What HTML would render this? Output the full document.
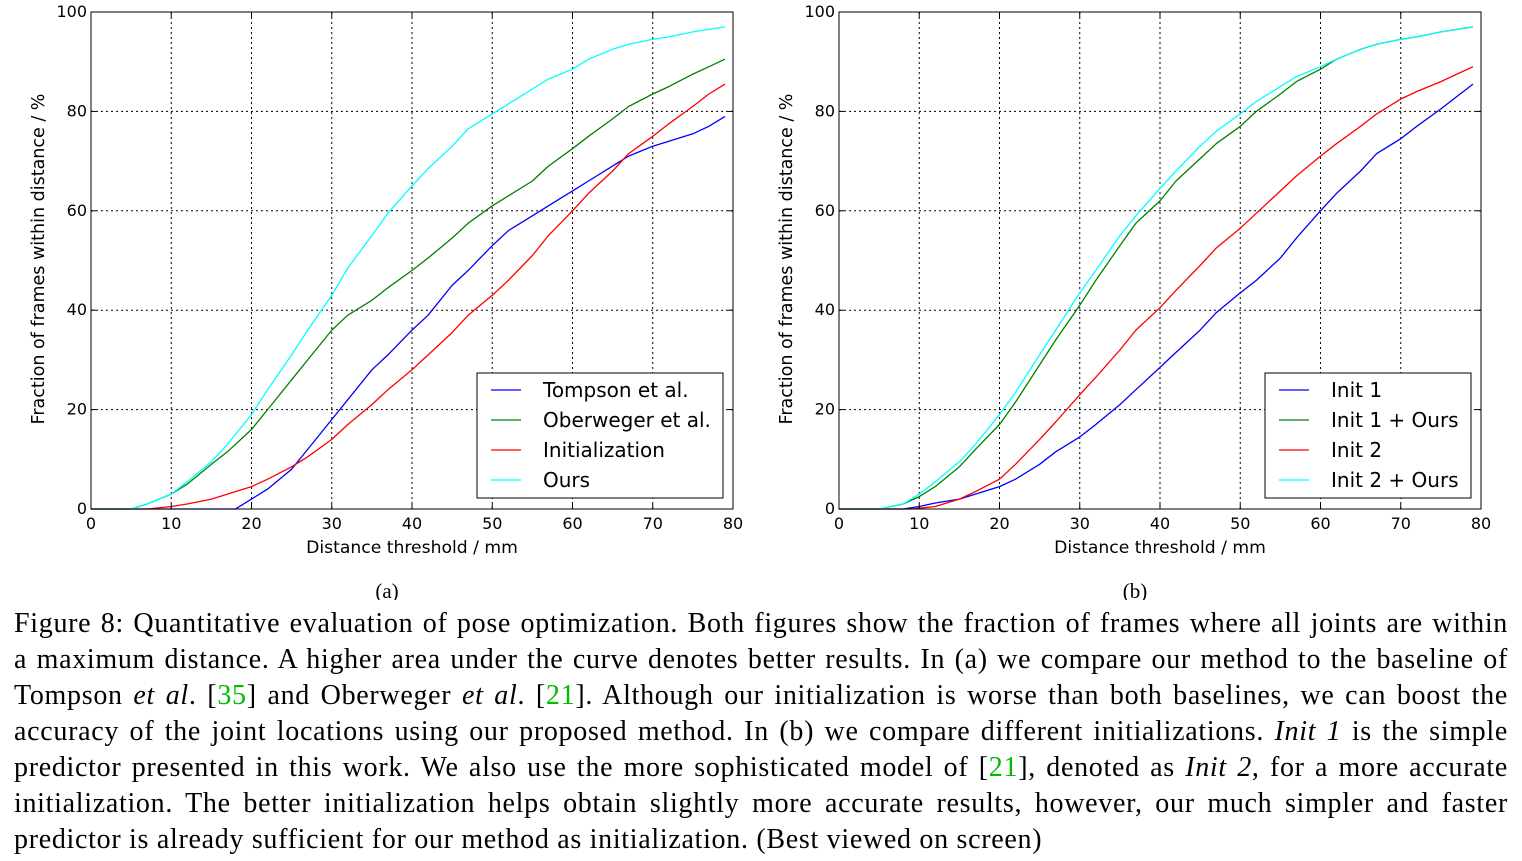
<!DOCTYPE html>
<html><head><meta charset="utf-8"><style>
body{margin:0;background:#fff;width:1522px;height:861px;overflow:hidden;position:relative}
svg{position:absolute;left:0;top:0}
.cap{position:absolute;left:14px;width:1494px;font-family:"Liberation Serif",serif;font-size:28px;letter-spacing:0.7px;line-height:36px;top:606px;color:#000}
.cap div{text-align:justify;text-align-last:justify;white-space:nowrap}
.cap div.last{text-align-last:left}
.g{color:#00bb00}
</style></head><body>
<svg id="chart" width="1522" height="600"></svg>
<div class="cap">
<div>Figure 8: Quantitative evaluation of pose optimization. Both figures show the fraction of frames where all joints are within</div>
<div>a maximum distance. A higher area under the curve denotes better results. In (a) we compare our method to the baseline of</div>
<div>Tompson <i>et al</i>. [<span class="g">35</span>] and Oberweger <i>et al</i>. [<span class="g">21</span>]. Although our initialization is worse than both baselines, we can boost the</div>
<div>accuracy of the joint locations using our proposed method. In (b) we compare different initializations. <i>Init 1</i> is the simple</div>
<div>predictor presented in this work. We also use the more sophisticated model of [<span class="g">21</span>], denoted as <i>Init 2</i>, for a more accurate</div>
<div>initialization. The better initialization helps obtain slightly more accurate results, however, our much simpler and faster</div>
<div class="last">predictor is already sufficient for our method as initialization. (Best viewed on screen)</div>
</div>
<script>
const xTicks=[0,10,20,30,40,50,60,70,80];
const yTicks=[0,20,40,60,80,100];
const labelsA=["Tompson et al.","Oberweger et al.","Initialization","Ours"];
const labelsB=["Init 1","Init 1 + Ours","Init 2","Init 2 + Ours"];
const colors=["#0000ff","#008000","#ff0000","#00ffff"];
const tompsonX=[0,18,20,22,25,27,30,32,35,37,40,42,45,47,50,52,55,57,60,62,65,67,70,72,75,77,79];
const tompsonY=[0,0,2,4,8,12,18,22,28,31,36,39,45,48,53,56,59,61,64,66,69,71,73,74,75.5,77,79];
const oberX=[0,5,7,10,12,15,17,20,22,25,27,30,32,35,37,40,42,45,47,50,52,55,57,60,62,65,67,70,72,75,77,79];
const oberY=[0,0,1,3,5,9,11.5,16,20,26,30,36,39,42,44.5,48,50.5,54.5,57.5,61,63,66,69,72.5,75,78.5,81,83.5,85,87.5,89,90.5];
const initX=[0,7,10,12,15,17,20,22,25,27,30,32,35,37,40,42,45,47,50,52,55,57,60,62,65,67,70,72,75,77,79];
const initY=[0,0,0.5,1,2,3,4.5,6,8.5,10.5,14,17,21,24,28,31,35.5,39,43,46,51,55,60,63.5,68,71.5,75,77.5,81,83.5,85.5];
const oursX=[0,5,7,10,12,15,17,20,22,25,27,30,32,35,37,40,42,45,47,50,52,55,57,60,62,65,67,70,72,75,77,79];
const oursY=[0,0,1,3,5.5,9.5,13,19,24,31,36,43,48.5,55,59.5,65,68.5,73,76.5,79.5,81.5,84.5,86.5,88.5,90.5,92.5,93.5,94.5,95,96,96.5,97];
const init1X=[0,8,10,12,15,17,20,22,25,27,30,32,35,37,40,42,45,47,50,52,55,57,60,62,65,67,70,72,75,77,79];
const init1Y=[0,0,0.5,1.2,2,3,4.5,6,9,11.5,14.5,17,21,24,28.5,31.5,36,39.5,43.5,46,50.5,54.5,60,63.5,68,71.5,74.5,77,80.5,83,85.5];
const init1oX=[0,5,8,10,12,15,17,20,22,25,27,30,32,35,37,40,42,45,47,50,52,55,57,60,62,65,67,70,72,75,77,79];
const init1oY=[0,0,1,2.5,4.5,8.5,12,17,21.5,29,34,41,46,53,57.5,62,66,70.5,73.5,77,80,83.5,86,88.5,90.5,92.5,93.5,94.5,95,96,96.5,97];
const init2X=[0,9,12,15,17,20,22,25,27,30,32,35,37,40,42,45,47,50,52,55,57,60,62,65,67,70,72,75,77,79];
const init2Y=[0,0,0.5,2,3.5,6,9,14,17.5,23,26.5,32,36,40.5,44,49,52.5,56.5,59.5,64,67,71,73.5,77,79.5,82.5,84,86,87.5,89];
const init2oX=[0,5,8,10,12,15,17,20,22,25,27,30,32,35,37,40,42,45,47,50,52,55,57,60,62,65,67,70,72,75,77,79];
const init2oY=[0,0,1,3,5.5,9.5,13,19,23.5,31,36,43.5,48,55,59,64.5,68,73,76,79.5,82,85,87,89,90.5,92.5,93.5,94.5,95,96,96.5,97];

const svg=document.getElementById('chart');
const NS='http://www.w3.org/2000/svg';
function mk(tag,attrs,parent){const e=document.createElementNS(NS,tag);for(const k in attrs)e.setAttribute(k,attrs[k]);(parent||svg).appendChild(e);return e;}
const FONT='"DejaVu Sans","Liberation Sans",sans-serif';
function panel(x0,x1,id,series,labels,sub){
  const y0=509,y1=12;
  const sx=v=>x0+(x1-x0)*v/80, sy=v=>y0+(y1-y0)*v/100;
  const g=mk('g',{});
  
  
  xTicks.forEach(t=>{if(t>0&&t<80){const l=mk('line',{x1:sx(t),x2:sx(t),y1:y0,y2:y1,stroke:'#000','stroke-width':1,'stroke-dasharray':'2,3'},g);}});
  yTicks.forEach(t=>{if(t>0&&t<100){const l=mk('line',{x1:x0,x2:x1,y1:sy(t),y2:sy(t),stroke:'#000','stroke-width':1,'stroke-dasharray':'2,3'},g);}});
  series.forEach((s,i)=>{
    const d=s[0].map((xv,j)=>(j?'L':'M')+sx(xv).toFixed(1)+','+sy(s[1][j]).toFixed(1)).join('');
    const p=mk('path',{d:d,fill:'none',stroke:colors[i],'stroke-width':1.3,'stroke-linejoin':'round'},g);
    
    
  });
  xTicks.forEach(t=>{
    mk('line',{x1:sx(t),x2:sx(t),y1:y0,y2:y0-5,stroke:'#000'},g);
    mk('line',{x1:sx(t),x2:sx(t),y1:y1,y2:y1+5,stroke:'#000'},g);
    const tx=mk('text',{x:sx(t),y:y0+20,'text-anchor':'middle','font-family':FONT,'font-size':16},g);tx.textContent=t;
    
  });
  yTicks.forEach(t=>{
    mk('line',{x1:x0,x2:x0+5,y1:sy(t),y2:sy(t),stroke:'#000'},g);
    mk('line',{x1:x1,x2:x1-5,y1:sy(t),y2:sy(t),stroke:'#000'},g);
    const tx=mk('text',{x:x0-4,y:sy(t)+5,'text-anchor':'end','font-family':FONT,'font-size':16},g);tx.textContent=t;
    
  });
  const fr=mk('rect',{x:x0,y:y1,width:x1-x0,height:y0-y1,fill:'none',stroke:'#000','stroke-width':1},g);
  
  const xt=mk('text',{x:(x0+x1)/2,y:553,'text-anchor':'middle','font-family':FONT,'font-size':17.2},g);xt.textContent='Distance threshold / mm';
  
  const yt=mk('text',{x:0,y:0,'text-anchor':'middle','font-family':FONT,'font-size':17.5,transform:`translate(${x0-47},259) rotate(-90)`},g);yt.textContent='Fraction of frames within distance / %';
  
  const sl=mk('text',{x:(x0+x1)/2-25,y:598,'text-anchor':'middle','font-family':'"Liberation Serif",serif','font-size':21},g);sl.textContent=sub;
  
  const lg=mk('g',{},g);
  
  const lx=x1-(id==='a'?256:216), lw=(id==='a'?246:206);
  mk('rect',{x:lx,y:373,width:lw,height:125,fill:'#fff',stroke:'#000'},lg);
  labels.forEach((lab,i)=>{
    const yy=390+i*30;
    const e=mk('g',{},lg);
    
    mk('line',{x1:lx+14,x2:lx+44,y1:yy,y2:yy,stroke:colors[i],'stroke-width':1.3},e);
    const t=mk('text',{x:lx+66,y:yy+7,'font-family':FONT,'font-size':20},e);t.textContent=lab;
  });
}
panel(91,733,'a',[[tompsonX,tompsonY],[oberX,oberY],[initX,initY],[oursX,oursY]],labelsA,'(a)');
panel(839,1481,'b',[[init1X,init1Y],[init1oX,init1oY],[init2X,init2Y],[init2oX,init2oY]],labelsB,'(b)');
</script>
</body></html>
